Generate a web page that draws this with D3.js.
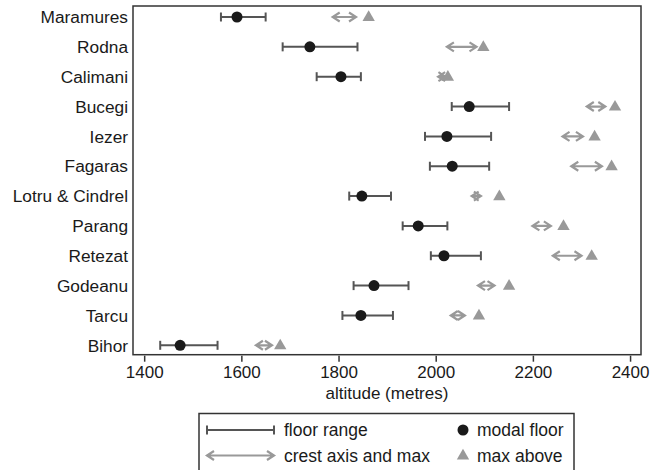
<!DOCTYPE html>
<html>
<head>
<meta charset="utf-8">
<script src="https://cdn.jsdelivr.net/npm/d3@7"></script>
<style>
  body { margin: 0; background: #fff; }
  text { font-family: "Liberation Sans", Arial, sans-serif; fill: #1a1a1a; }
</style>
</head>
<body>
<div id="chart"></div>
<script>
var ranges = ["Maramures", "Rodna", "Calimani", "Bucegi", "Iezer", "Fagaras",
              "Lotru & Cindrel", "Parang", "Retezat", "Godeanu", "Tarcu", "Bihor"];
var floorLow   = [1558, 1685, 1755, 2033, 1978, 1988, 1822, 1932, 1990, 1831, 1808, 1433];
var floorHigh  = [1650, 1839, 1846, 2151, 2114, 2110, 1908, 2024, 2093, 1944, 1912, 1551];
var modalFloor = [1591, 1741, 1805, 2069, 2023, 2034, 1848, 1964, 2017, 1873, 1846, 1474];
var crestLow   = [1788, 2023, 2005, 2311, 2261, 2279, 2074, 2199, 2241, 2087, 2031, 1630];
var crestHigh  = [1836, 2084, 2020, 2349, 2303, 2342, 2093, 2237, 2300, 2121, 2060, 1663];
var maxAbove   = [1862, 2098, 2025, 2369, 2327, 2362, 2131, 2263, 2321, 2151, 2089, 1680];
var xTicks = [1400, 1600, 1800, 2000, 2200, 2400];

var width = 661, height = 470,
    margin = {top: 6, right: 20, bottom: 115, left: 133};

var svg = d3.select("#chart").append("svg")
    .attr("width", width)
    .attr("height", height);

var x = d3.scaleLinear()
    .domain([1377, 2422.5])
    .range([margin.left, width - margin.right]);

var y = d3.scalePoint()
    .domain(ranges)
    .range([17, 345.3]);

var lineCol = "#555", crestCol = "#999", dotCol = "#1a1a1a";

// frame
svg.append("rect")
    .attr("x", margin.left).attr("y", margin.top)
    .attr("width", width - margin.right - margin.left)
    .attr("height", height - margin.bottom - margin.top - 0.3)
    .attr("fill", "none").attr("stroke", "#333").attr("stroke-width", 1.5);

// x axis
var xAxis = svg.append("g")
    .attr("transform", "translate(0," + (height - margin.bottom + 0.7) + ")")
    .call(d3.axisBottom(x).tickValues(xTicks).tickSize(6).tickPadding(4).tickFormat(d3.format("d")));
xAxis.select(".domain").remove();
xAxis.selectAll("line").attr("stroke", "#333").attr("stroke-width", 1.5);
xAxis.selectAll("text").style("font-size", "17px").attr("fill", "#1a1a1a");

svg.append("text")
    .attr("x", (margin.left + width - margin.right) / 2)
    .attr("y", 399)
    .attr("text-anchor", "middle")
    .style("font-size", "17px")
    .text("altitude (metres)");

// y labels
svg.append("g").selectAll("text")
    .data(ranges)
  .enter().append("text")
    .attr("x", margin.left - 5)
    .attr("y", d => y(d))
    .attr("dy", "0.36em")
    .attr("text-anchor", "end")
    .style("font-size", "17.3px")
    .text(d => d);

function rangeBar(g, x1, x2, yy) {
    g.append("line").attr("x1", x1).attr("x2", x2).attr("y1", yy).attr("y2", yy)
        .attr("stroke", lineCol).attr("stroke-width", 2);
    [x1, x2].forEach(function (xx) {
        g.append("line").attr("x1", xx).attr("x2", xx).attr("y1", yy - 4.5).attr("y2", yy + 4.5)
            .attr("stroke", lineCol).attr("stroke-width", 2);
    });
}

function arrow(g, x1, x2, yy) {
    var h = 7, w = 4.5;
    g.append("path")
        .attr("d", "M" + x1 + "," + yy + "L" + x2 + "," + yy +
              "M" + (x1 + h) + "," + (yy - w) + "L" + x1 + "," + yy + "L" + (x1 + h) + "," + (yy + w) +
              "M" + (x2 - h) + "," + (yy - w) + "L" + x2 + "," + yy + "L" + (x2 - h) + "," + (yy + w))
        .attr("fill", "none").attr("stroke", crestCol).attr("stroke-width", 2.2);
}

var tri = d3.symbol().type(d3.symbolTriangle).size(66);

var rows = svg.append("g");
ranges.forEach(function (name, i) {
    var yy = y(name);
    rangeBar(rows, x(floorLow[i]), x(floorHigh[i]), yy);
    arrow(rows, x(crestLow[i]), x(crestHigh[i]), yy);
    rows.append("path").attr("d", tri)
        .attr("transform", "translate(" + x(maxAbove[i]) + "," + (yy + 0.5) + ")")
        .attr("fill", crestCol);
    rows.append("circle")
        .attr("cx", x(modalFloor[i])).attr("cy", yy).attr("r", 5.5)
        .attr("fill", dotCol);
});

// legend
var leg = svg.append("g");
leg.append("rect")
    .attr("x", 199).attr("y", 413.5).attr("width", 375).attr("height", 80)
    .attr("fill", "#fff").attr("stroke", "#333").attr("stroke-width", 1.5);
rangeBar(leg, 207, 274, 430);
arrow(leg, 207, 274, 455.5);
leg.append("circle").attr("cx", 463).attr("cy", 430).attr("r", 5.5).attr("fill", dotCol);
leg.append("path").attr("d", tri).attr("transform", "translate(463,456)").attr("fill", crestCol);
[["floor range", 284, 430], ["crest axis and max", 284, 455.5],
 ["modal floor", 477, 430], ["max above", 477, 455.5]].forEach(function (t) {
    leg.append("text").attr("x", t[1]).attr("y", t[2]).attr("dy", "0.36em")
        .style("font-size", "17.5px").text(t[0]);
});
</script>
</body>
</html>
